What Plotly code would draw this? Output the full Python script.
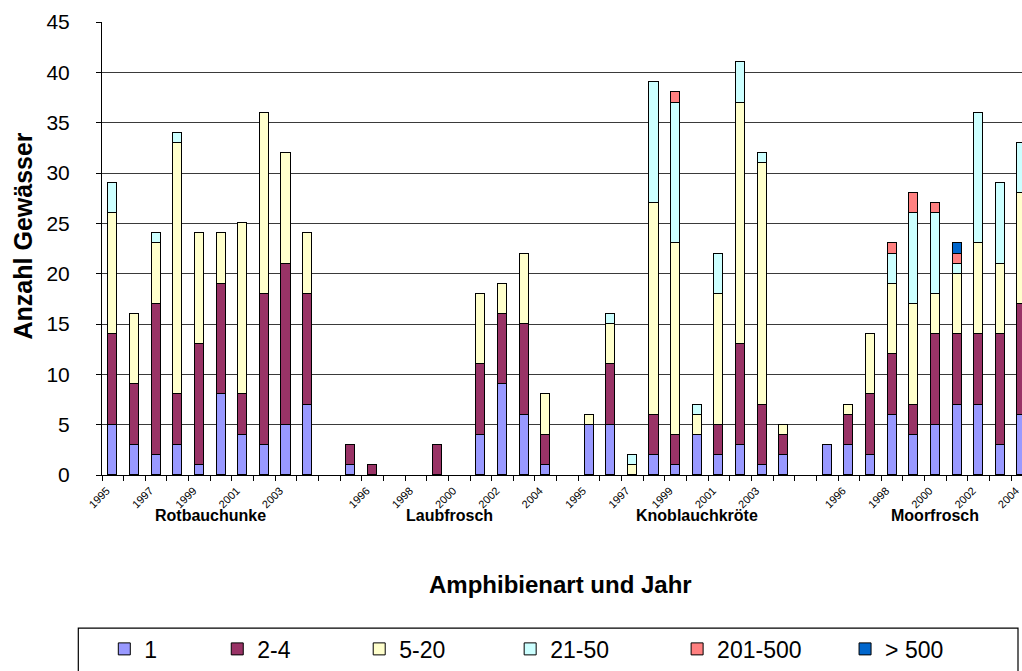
import plotly.graph_objects as go

# Amphibian species and survey years
species = ["Rotbauchunke", "Laubfrosch", "Knoblauchkröte", "Moorfrosch"]
years = [1995, 1996, 1997, 1998, 1999, 2000, 2001, 2002, 2003, 2004]

# Number of ponds per population-size class, species by species, years 1995-2004
n_1 = [5, 3, 2, 3, 1, 8, 4, 3, 5, 7,
       1, 0, 0, 0, 0, 0, 4, 9, 6, 1,
       5, 5, 0, 2, 1, 4, 2, 3, 1, 2,
       3, 3, 2, 6, 4, 5, 7, 7, 3, 6]
n_2_4 = [9, 6, 15, 5, 12, 11, 4, 15, 16, 11,
         2, 1, 0, 0, 3, 0, 7, 7, 9, 3,
         0, 6, 0, 4, 3, 0, 3, 10, 6, 2,
         0, 3, 6, 6, 3, 9, 7, 7, 11, 11]
n_5_20 = [12, 7, 6, 25, 11, 5, 17, 18, 11, 6,
          0, 0, 0, 0, 0, 0, 7, 3, 7, 4,
          1, 4, 1, 21, 19, 2, 13, 24, 24, 1,
          0, 1, 6, 7, 10, 4, 6, 9, 7, 11]
n_21_50 = [3, 0, 1, 1, 0, 0, 0, 0, 0, 0,
           0, 0, 0, 0, 0, 0, 0, 0, 0, 0,
           0, 1, 1, 12, 14, 1, 4, 4, 1, 0,
           0, 0, 0, 3, 9, 8, 1, 13, 8, 5]
n_201_500 = [0] * 20 + [0, 0, 0, 0, 1, 0, 0, 0, 0, 0,
                        0, 0, 0, 1, 2, 1, 1, 0, 0, 0]
n_500 = [0] * 30 + [0, 0, 0, 0, 0, 0, 1, 0, 0, 0]

class_names = ["1", "2-4", "5-20", "21-50", "201-500", "> 500"]
class_values = [n_1, n_2_4, n_5_20, n_21_50, n_201_500, n_500]
class_colors = ["#9999FF", "#993366", "#FFFFCC", "#CCFFFF", "#FF8080", "#0066CC"]

# One empty slot separates the species blocks on the category axis
slot_per_species = len(years) + 1
slots = [si * slot_per_species + yi for si in range(len(species)) for yi in range(len(years))]

# Canvas geometry (pixels)
W, H = 1022, 671
PL, PT, PB = 101.7, 21.7, 479.3
x_right = slots[-1]  # the last bar sits on the right edge of the canvas

def paper_x(px):
    return (px - PL) / (W - PL)

def paper_y(py):
    return (PB - py) / (PB - PT)

FONT = "Liberation Sans, Arial, sans-serif"

fig = go.Figure()
legend_keys = ["legend", "legend2", "legend3", "legend4", "legend5", "legend6"]
for name, vals, color, lg in zip(class_names, class_values, class_colors, legend_keys):
    fig.add_trace(go.Bar(
        x=slots,
        y=[v if v else None for v in vals],
        name=name,
        width=0.42,
        marker=dict(color=color, line=dict(color="black", width=1)),
        legend=lg,
        showlegend=True,
    ))

# Year labels on every second slot
tick_vals, tick_text = [], []
for si in range(len(species)):
    for yi, yr in enumerate(years):
        s = si * slot_per_species + yi
        if s % 2 == 0:
            tick_vals.append(s)
            tick_text.append(str(yr))

fig.update_layout(
    barmode="stack",
    width=W, height=H,
    showlegend=True,
    margin=dict(l=PL, r=0, t=PT, b=H - PB, pad=0),
    paper_bgcolor="white",
    plot_bgcolor="white",
    font=dict(family=FONT, color="black"),
    bargap=0,
    xaxis=dict(
        range=[-0.5, x_right],
        tickmode="array", tickvals=tick_vals, ticktext=tick_text,
        tickangle=-45, tickfont=dict(size=11),
        ticklabelshift=-6, ticklabelstandoff=4,
        ticks="", showgrid=False, zeroline=False,
        showline=True, linecolor="black", linewidth=1,
        minor=dict(tick0=-0.5, dtick=1, ticks="outside", ticklen=5,
                   tickcolor="black", showgrid=False),
    ),
    yaxis=dict(
        range=[0, 45], dtick=5, tick0=0,
        tickfont=dict(size=21),
        ticks="outside", ticklen=5, tickcolor="black",
        ticklabelstandoff=22,
        showgrid=True, gridcolor="#3a3a3a", gridwidth=1,
        zeroline=False, showline=True, linecolor="black", linewidth=1,
    ),
)

# Legend: one entry per class, placed along a framed strip below the chart
legend_px = [104, 217, 359, 510, 677, 845]
leg_y = paper_y(655)
for lg, px in zip(legend_keys, legend_px):
    fig.layout[lg] = dict(
        x=paper_x(px), y=leg_y, xanchor="left", yanchor="middle",
        orientation="h", font=dict(size=23, family=FONT),
        bgcolor="rgba(0,0,0,0)", borderwidth=0,
    )

fig.add_shape(type="rect", xref="paper", yref="paper",
              x0=paper_x(78), x1=paper_x(1018), y0=paper_y(634), y1=paper_y(690),
              line=dict(color="black", width=1.2), fillcolor="rgba(0,0,0,0)", layer="below")

# Species names under their block of years
species_centers = [4.5, 15.57, 26.97, 37.99]
for name, cx in zip(species, species_centers):
    fig.add_annotation(x=cx, xref="x", y=paper_y(520), yref="paper",
                       text=name, showarrow=False,
                       font=dict(size=16, family=FONT, weight="bold"),
                       xanchor="center", yanchor="middle")

# Axis titles
fig.add_annotation(x=paper_x(560), xref="paper", y=paper_y(590), yref="paper",
                   text="Amphibienart und Jahr", showarrow=False,
                   font=dict(size=24, family=FONT, weight="bold"),
                   xanchor="center", yanchor="middle")
fig.add_annotation(x=paper_x(23), xref="paper", y=paper_y(238), yref="paper",
                   text="Anzahl Gewässer", showarrow=False, textangle=-90,
                   font=dict(size=25, family=FONT, weight="bold"),
                   xanchor="center", yanchor="middle")

fig.write_html("out.html")
